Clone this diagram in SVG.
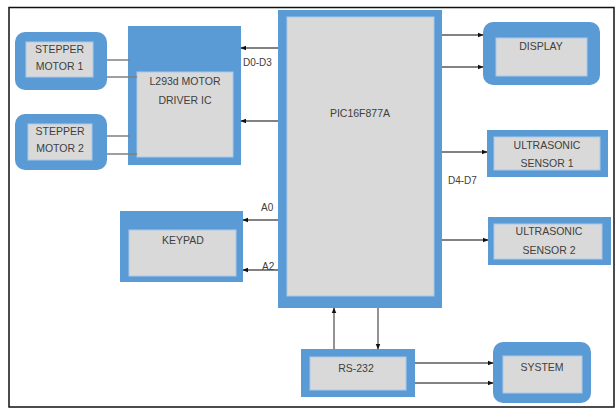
<svg xmlns="http://www.w3.org/2000/svg" width="616" height="409" viewBox="0 0 616 409">
<defs>
<style>
.outer{fill:#5b9bd5;}
.inner{fill:#d9d9d9;stroke:#a9c9ea;stroke-width:1;}
.t{font-family:"Liberation Sans",Arial,sans-serif;font-size:10.5px;fill:#404040;text-anchor:middle;}
.lbl{font-family:"Liberation Sans",Arial,sans-serif;font-size:10px;fill:#404040;}
.ln{stroke:#7f7f7f;stroke-width:1.5;fill:none;}
.ar{stroke:#595959;stroke-width:1.3;fill:none;marker-end:url(#ah);}
</style>
<marker id="ah" viewBox="0 0 10 10" refX="9" refY="5" markerWidth="6" markerHeight="6" markerUnits="userSpaceOnUse" orient="auto">
<path d="M0,1 L10,5 L0,9 Z" fill="#111"/>
</marker>
</defs>
<rect x="0" y="0" width="616" height="409" fill="#ffffff"/>
<rect x="9" y="7.5" width="605" height="399.5" fill="#ffffff" stroke="#111" stroke-width="1.5"/>

<g id="stepper1">
<rect class="outer" x="15" y="32" width="92" height="58" rx="10"/>
<rect class="inner" x="26" y="42" width="67" height="35"/>
<text class="t" x="59.5" y="53">STEPPER</text>
<text class="t" x="59.5" y="70">MOTOR 1</text>
</g>
<g id="stepper2">
<rect class="outer" x="15" y="114" width="92" height="56" rx="10"/>
<rect class="inner" x="28" y="124" width="64" height="36"/>
<text class="t" x="60" y="135">STEPPER</text>
<text class="t" x="60" y="152">MOTOR 2</text>
</g>
<g id="driver">
<rect class="outer" x="128" y="26" width="113" height="139"/>
<rect class="inner" x="137" y="72" width="96" height="85"/>
<text class="t" x="185" y="85">L293d MOTOR</text>
<text class="t" x="185" y="104">DRIVER IC</text>
</g>
<g id="pic">
<rect class="outer" x="278" y="10" width="164" height="298"/>
<rect class="inner" x="287" y="17" width="147" height="279"/>
<text class="t" x="360" y="117">PIC16F877A</text>
</g>
<g id="display">
<rect class="outer" x="483" y="22" width="117" height="63" rx="10"/>
<rect class="inner" x="496" y="38" width="91" height="38"/>
<text class="t" x="541" y="50">DISPLAY</text>
</g>
<g id="us1">
<rect class="outer" x="487" y="130" width="121" height="47"/>
<rect class="inner" x="494" y="137" width="106" height="33"/>
<text class="t" x="547" y="149">ULTRASONIC</text>
<text class="t" x="547" y="167">SENSOR 1</text>
</g>
<g id="us2">
<rect class="outer" x="488" y="217" width="123" height="48"/>
<rect class="inner" x="494" y="224" width="108" height="35"/>
<text class="t" x="549" y="235">ULTRASONIC</text>
<text class="t" x="549" y="254">SENSOR 2</text>
</g>
<g id="keypad">
<rect class="outer" x="120" y="211" width="123" height="71"/>
<rect class="inner" x="129" y="230" width="107" height="46"/>
<text class="t" x="183" y="244">KEYPAD</text>
</g>
<g id="rs232">
<rect class="outer" x="301" y="349" width="114" height="48"/>
<rect class="inner" x="310" y="357" width="96" height="33"/>
<text class="t" x="356" y="372">RS-232</text>
</g>
<g id="system">
<rect class="outer" x="493" y="342" width="98" height="61" rx="10"/>
<rect class="inner" x="503" y="356" width="79" height="37"/>
<text class="t" x="542" y="371">SYSTEM</text>
</g>

<g id="connectors">
<line class="ln" x1="107" y1="60" x2="130" y2="60"/>
<line class="ln" x1="107" y1="77" x2="137" y2="77"/>
<line class="ln" x1="107" y1="136" x2="130" y2="136"/>
<line class="ln" x1="107" y1="154" x2="137" y2="154"/>
<line class="ar" x1="278" y1="48" x2="241" y2="48"/>
<line class="ar" x1="278" y1="121" x2="241" y2="121"/>
<line class="ar" x1="442" y1="35" x2="483" y2="35"/>
<line class="ar" x1="442" y1="67" x2="483" y2="67"/>
<line class="ar" x1="442" y1="152" x2="487" y2="152"/>
<line class="ar" x1="442" y1="240" x2="488" y2="240"/>
<line class="ar" x1="278" y1="220" x2="243" y2="220"/>
<line class="ar" x1="278" y1="270" x2="243" y2="270"/>
<line class="ar" x1="334" y1="349" x2="334" y2="308"/>
<line class="ar" x1="378" y1="308" x2="378" y2="349"/>
<line class="ar" x1="415" y1="363" x2="493" y2="363"/>
<line class="ar" x1="415" y1="383" x2="493" y2="383"/>
<text class="lbl" x="243" y="66">D0-D3</text>
<text class="lbl" x="448" y="184">D4-D7</text>
<text class="lbl" x="261" y="211">A0</text>
<text class="lbl" x="262" y="270">A2</text>
</g>
</svg>
